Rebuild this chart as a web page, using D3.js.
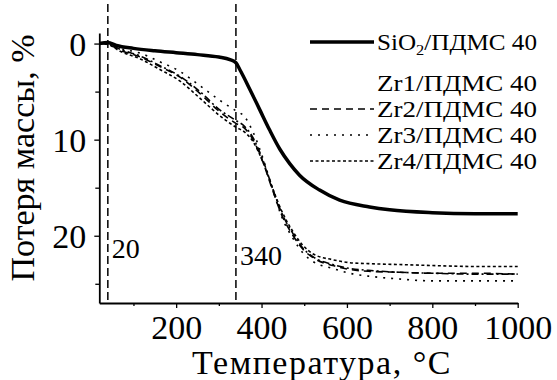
<!DOCTYPE html>
<html>
<head>
<meta charset="utf-8">
<script src="https://cdn.jsdelivr.net/npm/d3@7"></script>
<style>
  body { margin: 0; background: #fff; }
  svg text { font-family: "Liberation Serif", "Times New Roman", Tinos, serif; fill: #000; }
</style>
</head>
<body>
<svg id="chart" width="557" height="380"></svg>
<script>
// temperature (°C) / mass loss (%)
const tSiO2 = [20, 40, 60, 100, 150, 200, 250, 300, 326, 340, 349, 373, 396, 419, 443, 466, 489, 536, 583, 653, 700, 800, 900, 1000];
const vSiO2 = [0, -0.1, 0.2, 0.5, 0.75, 0.95, 1.15, 1.4, 1.67, 2.0, 2.7, 4.8, 6.9, 9.0, 11.0, 12.5, 13.7, 15.25, 16.3, 17.0, 17.3, 17.6, 17.7, 17.7];

const tZr = [20, 40, 69, 116, 162, 209, 256, 302, 340, 360, 380, 403, 427, 447, 474, 497, 521, 567, 606, 650, 723, 800, 900, 1000];
const vZr1 = [0, 0, 0.6, 1.3, 2.3, 3.4, 5.0, 6.9, 8.0, 8.6, 9.8, 12.1, 15.2, 17.6, 19.8, 21.3, 22.2, 23.0, 23.4, 23.6, 23.8, 23.9, 24.0, 24.0];
const vZr2 = [0, 0.1, 0.7, 1.4, 2.4, 3.5, 5.2, 7.1, 8.3, 8.8, 10.0, 12.3, 15.4, 17.8, 20.0, 21.4, 22.3, 23.1, 23.5, 23.7, 23.8, 23.9, 23.9, 24.0];
const vZr3 = [0, 0, 0.5, 1.0, 1.9, 2.9, 4.4, 5.9, 7.0, 7.6, 9.2, 11.9, 15.3, 18.0, 20.3, 21.8, 22.7, 23.4, 23.9, 24.2, 24.5, 24.7, 24.7, 24.7];
const vZr4 = [0, 0.1, 0.8, 1.6, 2.7, 3.9, 5.7, 7.5, 8.7, 9.2, 10.2, 12.3, 15.2, 17.4, 19.6, 21.0, 21.9, 22.5, 22.8, 22.9, 23.0, 23.1, 23.2, 23.2];

const seriesNames = ["SiO2/ПДМС 40", "Zr1/ПДМС 40", "Zr2/ПДМС 40", "Zr3/ПДМС 40", "Zr4/ПДМС 40"];
const markerT = [40, 340];
const markerLabels = ["20", "340"];
const xTicks = [200, 400, 600, 800, 1000];
const xMinor = [100, 300, 500, 700, 900];
const yTicks = [0, 10, 20];
const yMinor = [5, 15, 25];

const series = [
  { name: seriesNames[0], t: tSiO2, v: vSiO2, width: 3.5, dash: null, legend: true },
  { name: seriesNames[1], t: tZr, v: vZr1, width: 1.6, dash: "7,3,2,3", legend: false },
  { name: seriesNames[2], t: tZr, v: vZr2, width: 1.6, dash: "7,5", legend: true },
  { name: seriesNames[3], t: tZr, v: vZr3, width: 1.6, dash: "2,6", legend: true },
  { name: seriesNames[4], t: tZr, v: vZr4, width: 1.6, dash: "3,2.5", legend: true }
];

const serif = "'Liberation Serif', 'Times New Roman', Tinos, serif";

const svg = d3.select("#chart");

const x = d3.scaleLinear().domain([20, 1000]).range([99.3, 517.7]);
const y = d3.scaleLinear().domain([-1.1, 27]).range([33, 303]);

// dashed markers
svg.append("g")
  .selectAll("line")
  .data(markerT)
  .enter()
  .append("line")
  .attr("x1", d => x(d))
  .attr("x2", d => x(d))
  .attr("y1", 4)
  .attr("y2", y(27))
  .style("stroke", "#000")
  .style("stroke-width", 1.5)
  .style("stroke-dasharray", "8,4");

svg.append("g")
  .selectAll("text")
  .data(markerT)
  .enter()
  .append("text")
  .attr("x", d => x(d) + 4)
  .attr("y", (d, i) => i === 0 ? 258 : 265)
  .style("font-size", "28px")
  .text((d, i) => markerLabels[i]);

// curves
const line = d3.line()
  .x(d => x(d[0]))
  .y(d => y(d[1]))
  .curve(d3.curveMonotoneX);

svg.append("g")
  .selectAll("path")
  .data(series)
  .enter()
  .append("path")
  .attr("d", s => line(s.t.map((t, i) => [t, s.v[i]])))
  .style("fill", "none")
  .style("stroke", "#000")
  .style("stroke-width", s => s.width)
  .style("stroke-dasharray", s => s.dash);

// axes
const xAxis = svg.append("g")
  .attr("transform", `translate(0,${y(27)})`)
  .call(d3.axisBottom(x).tickValues(xTicks).tickSize(5).tickSizeOuter(0).tickFormat(d3.format("d")));
svg.append("g")
  .attr("transform", `translate(0,${y(27)})`)
  .call(d3.axisBottom(x).tickValues(xMinor).tickSize(3).tickFormat(""))
  .call(g => g.select(".domain").remove());

const yAxis = svg.append("g")
  .attr("transform", `translate(${x(20)},0)`)
  .call(d3.axisLeft(y).tickValues(yTicks).tickSize(5).tickSizeOuter(0).tickPadding(8));
svg.append("g")
  .attr("transform", `translate(${x(20)},0)`)
  .call(d3.axisLeft(y).tickValues(yMinor).tickSize(4).tickFormat(""))
  .call(g => g.select(".domain").remove());

svg.selectAll(".domain").style("stroke-width", 1.8);
svg.selectAll(".tick line").style("stroke-width", 1.3);
svg.selectAll("g").attr("font-family", serif);

xAxis.selectAll("text")
  .style("font-size", "34px")
  .attr("y", 36)
  .attr("dy", 0);
yAxis.selectAll("text")
  .style("font-size", "34px")
  .attr("dy", "0.34em");
svg.selectAll(".tick text").style("font-family", serif);

// axis titles
svg.append("text")
  .attr("x", 322)
  .attr("y", 374)
  .attr("text-anchor", "middle")
  .style("font-size", "34px")
  .style("letter-spacing", "1.5px")
  .text("Температура, °C");

svg.append("text")
  .attr("transform", "translate(34,158) rotate(-90)")
  .attr("text-anchor", "middle")
  .style("font-size", "34px")
  .text("Потеря массы, %");

// legend
const legend = svg.append("g")
  .selectAll("g")
  .data(series)
  .enter()
  .append("g")
  .attr("transform", (s, i) => `translate(308,${i === 0 ? 42 : 57 + i * 26})`);

legend.filter(s => s.legend)
  .append("line")
  .attr("x1", 2)
  .attr("x2", 66)
  .style("stroke", "#000")
  .style("stroke-width", s => s.width)
  .style("stroke-dasharray", s => s.dash);

const legendText = legend.append("text")
  .attr("x", 69)
  .attr("dy", "0.35em")
  .attr("textLength", 160)
  .attr("lengthAdjust", "spacingAndGlyphs")
  .style("font-size", "23px");

legendText.filter((s, i) => i > 0)
  .text(s => s.name);

// subscript in SiO2
legendText.filter((s, i) => i === 0)
  .each(function(s) {
    const t = d3.select(this);
    t.append("tspan").text(s.name.slice(0, 3));
    t.append("tspan").attr("dy", 5).style("font-size", "15px").text(s.name.slice(3, 4));
    t.append("tspan").attr("dy", -5).text(s.name.slice(4));
  });
</script>
</body>
</html>
